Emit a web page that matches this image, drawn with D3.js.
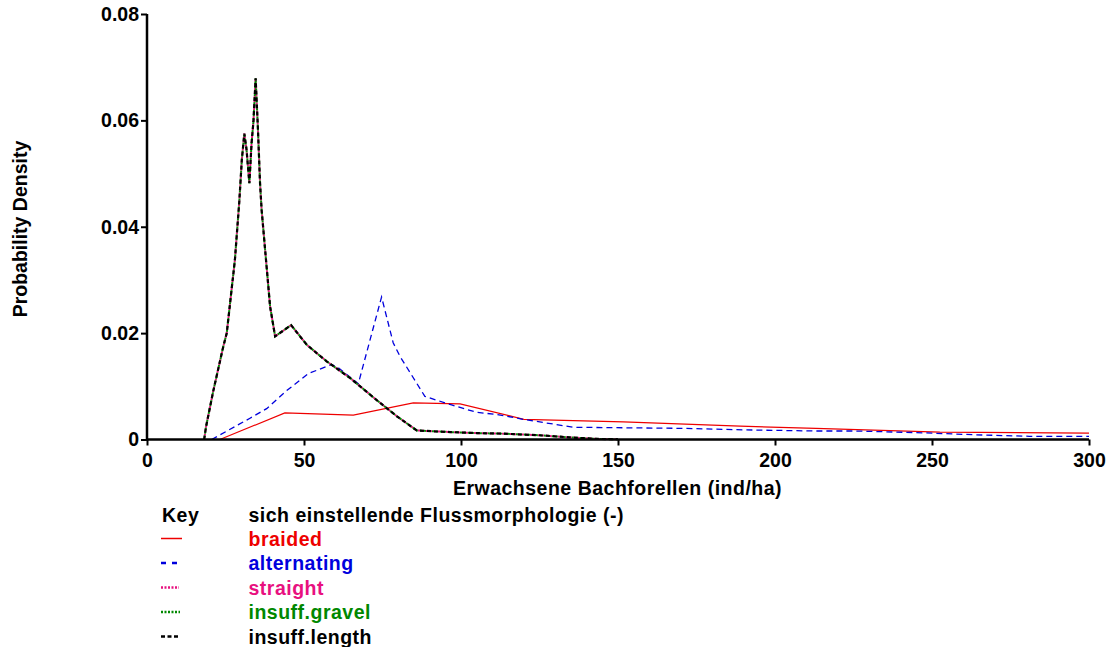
<!DOCTYPE html>
<html>
<head>
<meta charset="utf-8">
<script src="https://cdn.jsdelivr.net/npm/d3@7"></script>
<style>
  html, body { margin: 0; padding: 0; background: #fff; }
  svg text { font-family: "Liberation Sans", Arial, sans-serif; font-weight: bold; }
</style>
</head>
<body>
<svg id="chart" width="1111" height="647"></svg>
<script>
// ---- data ----
const xTicks = [0, 50, 100, 150, 200, 250, 300];
const yTicks = [0, 0.02, 0.04, 0.06, 0.08];
const yTickLabels = ["0", "0.02", "0.04", "0.06", "0.08"];

const braidedX = [23.2, 43.9, 65.7, 84.8, 99.7, 120, 151.7, 188.9, 213, 252.5, 300];
const braidedY = [0, 0.0050, 0.0046, 0.0069, 0.0067, 0.0038, 0.0033, 0.0025, 0.0021, 0.0014, 0.0012];

const alternatingX = [20.6, 32.8, 38.1, 44.5, 51.4, 58.8, 60.9, 67.3, 74.7, 78.4, 80.6, 88.5, 97, 105, 111.4, 119.8, 135.8, 170, 191, 213, 225, 245, 263, 281, 300];
const alternatingY = [0, 0.0040, 0.0058, 0.0092, 0.0124, 0.0141, 0.0135, 0.0105, 0.0268, 0.0182, 0.0156, 0.0081, 0.0065, 0.0051, 0.0047, 0.0038, 0.0023, 0.0021, 0.0018, 0.0016, 0.0016, 0.0013, 0.0009, 0.0006, 0.0006];

// straight, insuff.gravel and insuff.length coincide
const narrowX = [18.2, 18.8, 21.1, 24.3, 25.4, 28.0, 29.4, 30.2, 31.0, 31.7, 32.6, 33.3, 33.9, 34.6, 35.3, 36.0, 36.5, 39.2, 40.8, 45.9, 50.9, 57.2, 64.6, 74.2, 79.5, 85.9, 96.5, 105, 113.4, 124.9, 134.5, 144, 150];
const narrowY = [0, 0.0024, 0.0091, 0.0175, 0.0200, 0.0338, 0.0448, 0.0526, 0.0575, 0.0545, 0.0482, 0.0557, 0.0598, 0.0679, 0.0588, 0.0482, 0.0432, 0.0250, 0.0194, 0.0215, 0.0178, 0.0147, 0.0116, 0.0069, 0.0044, 0.0017, 0.0014, 0.0012, 0.0011, 0.0008, 0.0004, 0.0001, 0.00005];

const seriesNames = ["braided", "alternating", "straight", "insuff.gravel", "insuff.length"];
const seriesColors = ["#ee0000", "#0000dd", "#e8107f", "#008800", "#000000"];

const xTitle = "Erwachsene Bachforellen (ind/ha)";
const yTitle = "Probability Density";
const keyTitle = "Key";
const legendTitle = "sich einstellende Flussmorphologie (-)";

// ---- chart ----
const svg = d3.select("#chart");
const x = d3.scaleLinear().domain([0, 300]).range([147, 1089]);
const y = d3.scaleLinear().domain([0, 0.08]).range([439.5, 14]);

const styles = [
  { width: 1.2, dash: null },
  { width: 1.3, dash: "6,4" },
  { width: 2, dash: "2,2" },
  { width: 2, dash: "2,2", offset: 2 },
  { width: 2.2, dash: "4,3" }
];

const data = [
  d3.zip(braidedX, braidedY),
  d3.zip(alternatingX, alternatingY),
  d3.zip(narrowX, narrowY),
  d3.zip(narrowX, narrowY),
  d3.zip(narrowX, narrowY)
];

const line = d3.line().x(d => x(d[0])).y(d => y(d[1]));

data.forEach((d, i) => {
  const p = svg.append("path")
    .attr("d", line(d))
    .attr("fill", "none")
    .attr("stroke", seriesColors[i])
    .attr("stroke-width", styles[i].width);
  if (styles[i].dash) p.attr("stroke-dasharray", styles[i].dash);
  if (styles[i].offset) p.attr("stroke-dashoffset", styles[i].offset);
});

// axes
const xAxis = svg.append("g").attr("transform", `translate(0,${y(0)})`)
  .call(d3.axisBottom(x).tickValues(xTicks).tickSize(6).tickPadding(8).tickFormat(d3.format("d")));
const yAxis = svg.append("g").attr("transform", `translate(${x(0)},0)`)
  .call(d3.axisLeft(y).tickValues(yTicks).tickSize(6).tickPadding(2).tickFormat((d, i) => yTickLabels[i]));

[xAxis, yAxis].forEach(g => {
  g.select(".domain").attr("stroke", "#000").attr("stroke-width", 2.5);
  g.selectAll(".tick line").attr("stroke", "#000").attr("stroke-width", 2);
  g.selectAll(".tick text").attr("fill", "#000").style("font-size", "19.5px").style("font-weight", "bold")
    .style("font-family", "'Liberation Sans', Arial, sans-serif");
});
xAxis.select(".domain").attr("d", `M${x(0) - 1},0H${x(300)}`);
yAxis.select(".domain").attr("d", `M0,${y(0.08)}V${y(0) + 1}`);

svg.append("text")
  .attr("x", 617.5).attr("y", 495)
  .attr("text-anchor", "middle")
  .style("font-size", "19.5px")
  .style("letter-spacing", "0.5px")
  .text(xTitle);

svg.append("text")
  .attr("transform", `translate(27,229) rotate(-90)`)
  .attr("text-anchor", "middle")
  .style("font-size", "19.5px")
  .text(yTitle);

// legend
svg.append("text").attr("x", 162).attr("y", 521.5).style("font-size", "19.5px").style("letter-spacing", "0.5px").attr("fill", "#000").text(keyTitle);
svg.append("text").attr("x", 248.5).attr("y", 521.5).style("font-size", "19.5px").style("letter-spacing", "0.5px").attr("fill", "#000").text(legendTitle);

const legLen = [21, 16, 18, 19, 17];
seriesNames.forEach((name, i) => {
  const base = 545.5 + i * 24.5;
  const ly = base - 7;
  const l = svg.append("line")
    .attr("x1", 161).attr("x2", 161 + legLen[i])
    .attr("y1", ly).attr("y2", ly)
    .attr("stroke", seriesColors[i])
    .attr("stroke-width", i === 0 ? 1.5 : 2.5);
  if (i === 1) l.attr("stroke-dasharray", "5,6");
  if (i === 2 || i === 3) l.attr("stroke-dasharray", "2,1.5");
  if (i === 4) l.attr("stroke-dasharray", "4,2.5");
  svg.append("text").attr("x", 248.5).attr("y", base)
    .style("font-size", "19.5px").style("letter-spacing", "0.5px").attr("fill", seriesColors[i]).text(name);
});
</script>
</body>
</html>
